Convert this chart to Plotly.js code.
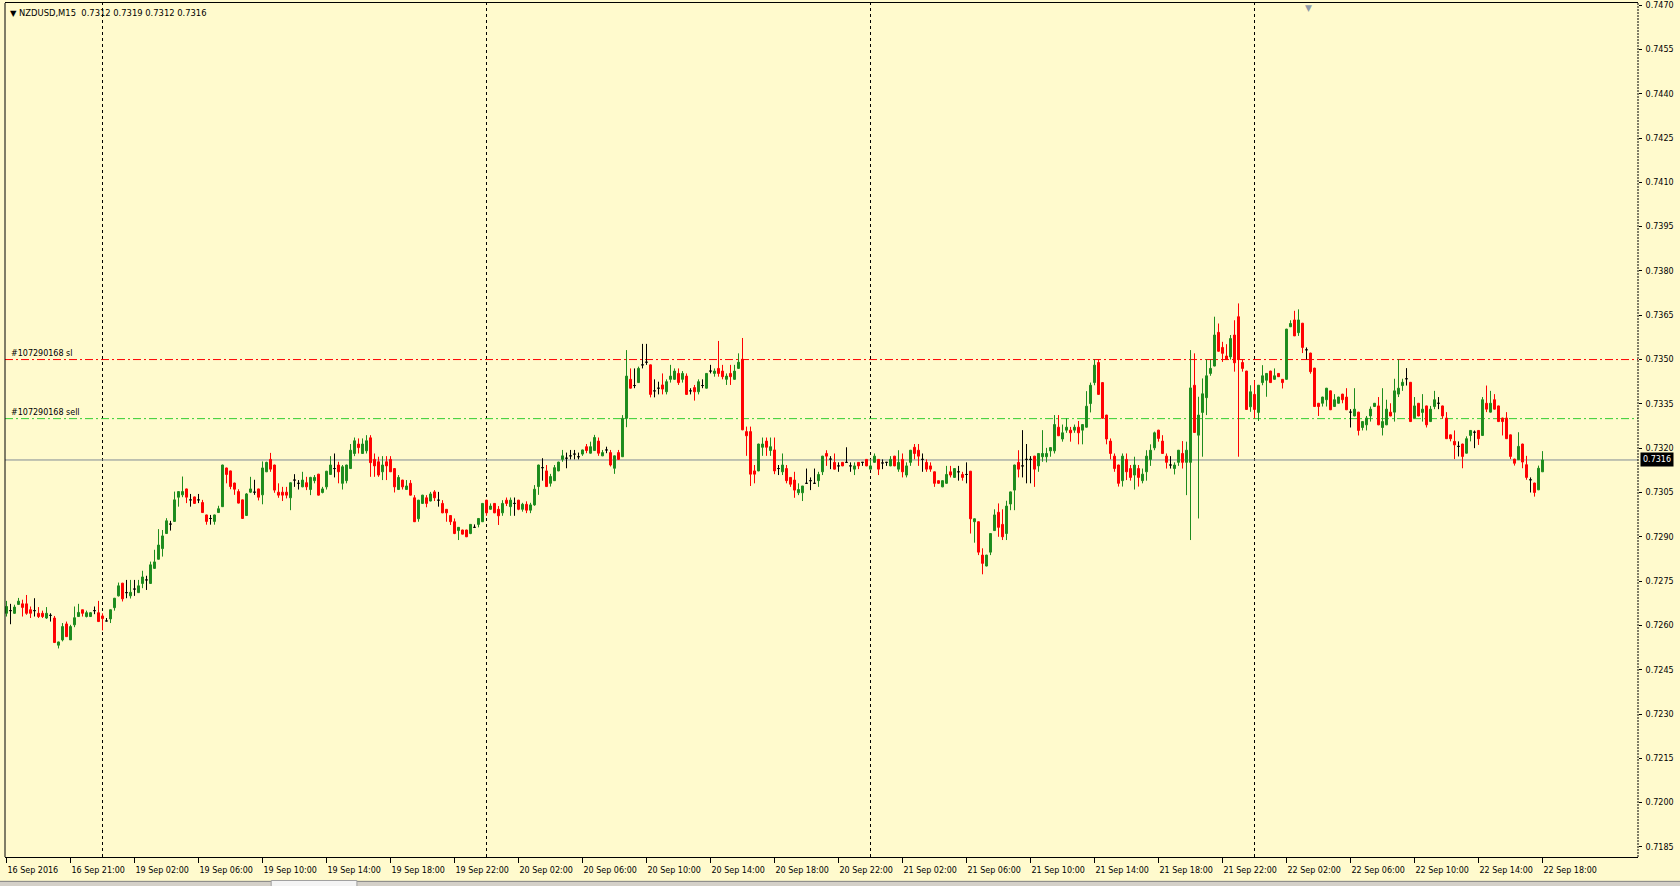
<!DOCTYPE html>
<html>
<head>
<meta charset="utf-8">
<script src="https://cdn.plot.ly/plotly-3.0.1.min.js"></script>
<style>
  html, body { margin: 0; padding: 0; background: #FFFACD; }
  #chart { width: 1680px; height: 886px; }
</style>
</head>
<body>
<div id="chart"></div>
<script>
// ---- Data: NZDUSD M15, one entry per bar (bar index 0 = 16 Sep 2016 17:00) ----
const symbolName = "NZDUSD,M15";
const open = [
0.72641,0.72650,0.72641,0.72671,0.72673,0.72673,0.72653,0.72650,0.72641,0.72641,
0.72625,0.72634,0.72625,0.72533,0.72551,0.72605,0.72551,0.72602,0.72630,0.72653,
0.72630,0.72630,0.72650,0.72643,0.72632,0.72615,0.72622,0.72660,0.72700,0.72743,
0.72711,0.72700,0.72723,0.72711,0.72742,0.72754,0.72742,0.72793,0.72824,0.72860,
0.72911,0.72943,0.72952,0.73034,0.73042,0.73062,0.73025,0.73035,0.73025,0.73016,
0.72974,0.72962,0.72952,0.72982,0.73002,0.73133,0.73123,0.73082,0.73053,0.73025,
0.72972,0.73051,0.73051,0.73062,0.73042,0.73120,0.73162,0.73143,0.73051,0.73051,
0.73051,0.73032,0.73092,0.73081,0.73069,0.73083,0.73060,0.73090,0.73112,0.73050,
0.73069,0.73111,0.73131,0.73143,0.73081,0.73090,0.73131,0.73182,0.73214,0.73182,
0.73191,0.73235,0.73162,0.73154,0.73120,0.73154,0.73162,0.73131,0.73060,0.73092,
0.73060,0.73081,0.73032,0.72961,0.73013,0.73032,0.73021,0.73052,0.73024,0.73013,
0.72993,0.72972,0.72951,0.72921,0.72923,0.72923,0.72911,0.72932,0.72942,0.72951,
0.73024,0.72993,0.73013,0.72993,0.72981,0.73024,0.73002,0.73013,0.73024,0.72993,
0.73010,0.72990,0.73008,0.73070,0.73134,0.73123,0.73081,0.73090,0.73123,0.73162,
0.73166,0.73174,0.73180,0.73171,0.73180,0.73205,0.73183,0.73192,0.73224,0.73174,
0.73194,0.73185,0.73132,0.73185,0.73171,0.73301,0.73433,0.73412,0.73422,0.73482,
0.73491,0.73482,0.73394,0.73403,0.73414,0.73391,0.73433,0.73433,0.73453,0.73433,
0.73444,0.73394,0.73405,0.73391,0.73412,0.73403,0.73461,0.73453,0.73470,0.73461,
0.73433,0.73453,0.73433,0.73470,0.73501,0.73256,0.73256,0.73123,0.73123,0.73203,
0.73224,0.73192,0.73194,0.73131,0.73120,0.73131,0.73101,0.73092,0.73049,0.73049,
0.73081,0.73090,0.73081,0.73090,0.73120,0.73182,0.73163,0.73152,0.73140,0.73152,
0.73152,0.73140,0.73129,0.73152,0.73152,0.73162,0.73129,0.73152,0.73162,0.73150,
0.73152,0.73140,0.73173,0.73129,0.73162,0.73109,0.73152,0.73203,0.73193,0.73162,
0.73152,0.73140,0.73120,0.73090,0.73069,0.73081,0.73120,0.73101,0.73120,0.73111,
0.73111,0.73122,0.72951,0.72951,0.72838,0.72801,0.72848,0.72921,0.72983,0.72942,
0.72911,0.73011,0.73058,0.73152,0.73140,0.73162,0.73162,0.73173,0.73140,0.73171,
0.73171,0.73191,0.73191,0.73271,0.73231,0.73261,0.73261,0.73261,0.73271,0.73261,
0.73271,0.73351,0.73422,0.73490,0.73422,0.73312,0.73224,0.73173,0.73143,0.73090,
0.73162,0.73131,0.73109,0.73131,0.73090,0.73120,0.73162,0.73201,0.73261,0.73224,
0.73173,0.73143,0.73131,0.73152,0.73182,0.73152,0.73152,0.73413,0.73244,0.73321,
0.73371,0.73453,0.73478,0.73592,0.73541,0.73512,0.73509,0.73583,0.73645,0.73490,
0.73461,0.73340,0.73382,0.73321,0.73422,0.73430,0.73461,0.73433,0.73453,0.73433,
0.73433,0.73611,0.73634,0.73591,0.73623,0.73533,0.73522,0.73471,0.73352,0.73352,
0.73364,0.73394,0.73341,0.73352,0.73383,0.73373,0.73322,0.73309,0.73322,0.73270,
0.73279,0.73309,0.73341,0.73343,0.73270,0.73279,0.73322,0.73322,0.73383,0.73412,
0.73435,0.73423,0.73302,0.73352,0.73321,0.73343,0.73290,0.73341,0.73352,0.73343,
0.73302,0.73245,0.73223,0.73206,0.73214,0.73183,0.73243,0.73254,0.73260,0.73243,
0.73352,0.73322,0.73364,0.73343,0.73302,0.73302,0.73245,0.73163,0.73161,0.73214,
0.73144,0.73093,0.73082,0.73059,0.73120
];
const high = [
0.72683,0.72673,0.72670,0.72693,0.72687,0.72703,0.72664,0.72692,0.72662,0.72650,
0.72662,0.72641,0.72632,0.72545,0.72608,0.72613,0.72602,0.72664,0.72673,0.72653,
0.72650,0.72645,0.72664,0.72683,0.72641,0.72625,0.72654,0.72693,0.72745,0.72744,
0.72754,0.72754,0.72754,0.72754,0.72785,0.72768,0.72816,0.72856,0.72926,0.72923,
0.72963,0.72954,0.73053,0.73054,0.73104,0.73063,0.73045,0.73036,0.73045,0.73025,
0.72975,0.72974,0.72975,0.73005,0.73144,0.73134,0.73124,0.73083,0.73061,0.73026,
0.73048,0.73103,0.73093,0.73063,0.73155,0.73154,0.73184,0.73144,0.73081,0.73069,
0.73069,0.73084,0.73112,0.73092,0.73120,0.73103,0.73103,0.73109,0.73113,0.73069,
0.73123,0.73173,0.73182,0.73154,0.73143,0.73144,0.73214,0.73236,0.73233,0.73233,
0.73244,0.73244,0.73182,0.73171,0.73173,0.73173,0.73173,0.73132,0.73109,0.73093,
0.73092,0.73092,0.73041,0.73025,0.73042,0.73041,0.73052,0.73058,0.73052,0.73024,
0.72994,0.72973,0.72962,0.72933,0.72924,0.72924,0.72943,0.72942,0.72963,0.73014,
0.73025,0.73013,0.73014,0.73004,0.73024,0.73033,0.73033,0.73033,0.73025,0.73015,
0.73020,0.73015,0.73075,0.73144,0.73166,0.73143,0.73113,0.73143,0.73154,0.73194,
0.73185,0.73194,0.73194,0.73185,0.73195,0.73214,0.73222,0.73245,0.73236,0.73194,
0.73205,0.73194,0.73175,0.73194,0.73312,0.73532,0.73470,0.73470,0.73476,0.73553,
0.73553,0.73483,0.73433,0.73425,0.73453,0.73433,0.73482,0.73470,0.73470,0.73461,
0.73453,0.73403,0.73414,0.73433,0.73433,0.73454,0.73482,0.73470,0.73563,0.73482,
0.73453,0.73482,0.73482,0.73521,0.73573,0.73273,0.73273,0.73143,0.73215,0.73236,
0.73236,0.73236,0.73236,0.73143,0.73182,0.73143,0.73101,0.73120,0.73081,0.73072,
0.73131,0.73101,0.73131,0.73120,0.73174,0.73193,0.73173,0.73182,0.73152,0.73153,
0.73203,0.73152,0.73152,0.73153,0.73153,0.73163,0.73162,0.73182,0.73163,0.73162,
0.73153,0.73173,0.73174,0.73193,0.73182,0.73152,0.73194,0.73214,0.73214,0.73182,
0.73162,0.73152,0.73121,0.73091,0.73091,0.73140,0.73140,0.73132,0.73140,0.73120,
0.73152,0.73123,0.72962,0.72952,0.72861,0.72839,0.72912,0.72993,0.73013,0.72993,
0.73022,0.73053,0.73144,0.73193,0.73261,0.73214,0.73173,0.73174,0.73182,0.73261,
0.73201,0.73203,0.73312,0.73312,0.73280,0.73301,0.73272,0.73280,0.73292,0.73281,
0.73393,0.73422,0.73501,0.73501,0.73423,0.73313,0.73233,0.73182,0.73144,0.73182,
0.73182,0.73143,0.73171,0.73143,0.73131,0.73193,0.73213,0.73256,0.73262,0.73244,
0.73182,0.73173,0.73152,0.73194,0.73224,0.73222,0.73532,0.73521,0.73374,0.73436,
0.73501,0.73501,0.73645,0.73622,0.73560,0.73552,0.73583,0.73633,0.73690,0.73500,
0.73462,0.73413,0.73430,0.73414,0.73481,0.73454,0.73462,0.73470,0.73454,0.73434,
0.73604,0.73633,0.73665,0.73670,0.73624,0.73541,0.73523,0.73472,0.73353,0.73374,
0.73404,0.73395,0.73383,0.73374,0.73384,0.73403,0.73332,0.73403,0.73323,0.73291,
0.73309,0.73341,0.73353,0.73373,0.73403,0.73364,0.73352,0.73435,0.73501,0.73435,
0.73471,0.73424,0.73373,0.73353,0.73383,0.73344,0.73343,0.73394,0.73373,0.73344,
0.73322,0.73246,0.73260,0.73223,0.73215,0.73240,0.73261,0.73260,0.73261,0.73373,
0.73412,0.73394,0.73383,0.73344,0.73303,0.73322,0.73246,0.73164,0.73254,0.73215,
0.73174,0.73101,0.73083,0.73141,0.73190
];
const low = [
0.72630,0.72604,0.72639,0.72669,0.72630,0.72636,0.72625,0.72630,0.72625,0.72625,
0.72622,0.72613,0.72542,0.72522,0.72546,0.72562,0.72551,0.72594,0.72630,0.72630,
0.72627,0.72629,0.72638,0.72613,0.72583,0.72615,0.72608,0.72650,0.72698,0.72681,
0.72692,0.72691,0.72700,0.72710,0.72726,0.72720,0.72741,0.72792,0.72823,0.72833,
0.72910,0.72921,0.72951,0.73002,0.73034,0.73014,0.73002,0.73012,0.73014,0.72981,
0.72941,0.72941,0.72941,0.72981,0.73001,0.73081,0.73061,0.73042,0.73013,0.72961,
0.72971,0.73048,0.73042,0.73023,0.73010,0.73119,0.73120,0.73049,0.73032,0.73021,
0.73030,0.72990,0.73069,0.73060,0.73068,0.73058,0.73041,0.73081,0.73040,0.73047,
0.73060,0.73110,0.73101,0.73081,0.73060,0.73081,0.73130,0.73173,0.73182,0.73181,
0.73182,0.73103,0.73103,0.73103,0.73092,0.73092,0.73120,0.73050,0.73060,0.73060,
0.73060,0.73040,0.72950,0.72951,0.73011,0.73000,0.73020,0.73021,0.73002,0.72980,
0.72951,0.72940,0.72909,0.72889,0.72908,0.72899,0.72909,0.72932,0.72932,0.72950,
0.72971,0.72992,0.72980,0.72940,0.72971,0.73004,0.72971,0.72971,0.72990,0.72985,
0.72980,0.72980,0.73005,0.73042,0.73090,0.73069,0.73070,0.73089,0.73122,0.73154,
0.73132,0.73162,0.73162,0.73162,0.73174,0.73183,0.73182,0.73191,0.73174,0.73173,
0.73183,0.73138,0.73113,0.73161,0.73170,0.73271,0.73402,0.73403,0.73421,0.73470,
0.73482,0.73372,0.73372,0.73382,0.73382,0.73382,0.73422,0.73431,0.73414,0.73422,
0.73381,0.73382,0.73361,0.73382,0.73403,0.73402,0.73453,0.73442,0.73442,0.73433,
0.73414,0.73414,0.73432,0.73469,0.73261,0.73174,0.73072,0.73081,0.73122,0.73174,
0.73174,0.73174,0.73112,0.73109,0.73109,0.73081,0.73069,0.73032,0.73041,0.73021,
0.73080,0.73058,0.73080,0.73069,0.73109,0.73140,0.73129,0.73128,0.73120,0.73139,
0.73151,0.73120,0.73109,0.73129,0.73140,0.73139,0.73128,0.73151,0.73109,0.73129,
0.73140,0.73139,0.73139,0.73120,0.73101,0.73101,0.73140,0.73162,0.73140,0.73120,
0.73120,0.73120,0.73069,0.73080,0.73068,0.73080,0.73101,0.73100,0.73090,0.73090,
0.73081,0.72911,0.72880,0.72838,0.72773,0.72800,0.72838,0.72920,0.72900,0.72889,
0.72889,0.72990,0.72990,0.73101,0.73101,0.73081,0.73081,0.73069,0.73120,0.73154,
0.73152,0.73171,0.73182,0.73241,0.73222,0.73252,0.73222,0.73252,0.73213,0.73213,
0.73270,0.73321,0.73413,0.73381,0.73300,0.73213,0.73162,0.73120,0.73070,0.73070,
0.73092,0.73090,0.73060,0.73070,0.73081,0.73090,0.73140,0.73193,0.73222,0.73181,
0.73131,0.73131,0.73111,0.73140,0.73131,0.73041,0.72889,0.73252,0.72962,0.73171,
0.73312,0.73445,0.73477,0.73527,0.73492,0.73499,0.73500,0.73459,0.73171,0.73459,
0.73330,0.73323,0.73301,0.73292,0.73413,0.73374,0.73421,0.73432,0.73441,0.73402,
0.73432,0.73610,0.73580,0.73580,0.73522,0.73501,0.73452,0.73340,0.73309,0.73341,
0.73341,0.73329,0.73340,0.73351,0.73352,0.73329,0.73270,0.73308,0.73243,0.73260,
0.73260,0.73290,0.73340,0.73278,0.73243,0.73278,0.73308,0.73290,0.73373,0.73394,
0.73412,0.73289,0.73301,0.73308,0.73290,0.73270,0.73289,0.73332,0.73332,0.73299,
0.73231,0.73223,0.73163,0.73172,0.73132,0.73182,0.73223,0.73200,0.73211,0.73242,
0.73322,0.73321,0.73331,0.73289,0.73243,0.73231,0.73163,0.73141,0.73160,0.73132,
0.73093,0.73050,0.73036,0.73058,0.73120
];
const close = [
0.72664,0.72650,0.72662,0.72682,0.72661,0.72641,0.72641,0.72650,0.72630,0.72630,
0.72641,0.72634,0.72542,0.72544,0.72596,0.72562,0.72596,0.72626,0.72644,0.72641,
0.72643,0.72643,0.72650,0.72613,0.72623,0.72615,0.72653,0.72692,0.72734,0.72690,
0.72711,0.72712,0.72723,0.72734,0.72764,0.72754,0.72805,0.72815,0.72872,0.72903,
0.72954,0.72943,0.73025,0.73053,0.73053,0.73034,0.73025,0.73013,0.73025,0.72982,
0.72952,0.72962,0.72974,0.72995,0.73143,0.73111,0.73070,0.73061,0.73014,0.72962,
0.73045,0.73062,0.73051,0.73034,0.73133,0.73152,0.73129,0.73058,0.73041,0.73041,
0.73041,0.73083,0.73092,0.73081,0.73092,0.73069,0.73101,0.73101,0.73041,0.73062,
0.73122,0.73143,0.73131,0.73120,0.73137,0.73143,0.73193,0.73225,0.73202,0.73214,
0.73225,0.73151,0.73140,0.73109,0.73143,0.73140,0.73120,0.73069,0.73101,0.73069,
0.73072,0.73041,0.72951,0.73024,0.73041,0.73013,0.73045,0.73032,0.73024,0.72981,
0.72981,0.72951,0.72911,0.72932,0.72909,0.72900,0.72942,0.72932,0.72962,0.73013,
0.72981,0.73004,0.72981,0.72971,0.73013,0.73013,0.73024,0.73013,0.72993,0.73010,
0.72990,0.73008,0.73061,0.73143,0.73134,0.73070,0.73104,0.73134,0.73153,0.73174,
0.73166,0.73174,0.73180,0.73171,0.73194,0.73192,0.73205,0.73236,0.73183,0.73185,
0.73194,0.73143,0.73174,0.73162,0.73301,0.73444,0.73403,0.73412,0.73470,0.73482,
0.73491,0.73382,0.73394,0.73403,0.73400,0.73425,0.73444,0.73461,0.73422,0.73453,
0.73382,0.73394,0.73391,0.73425,0.73412,0.73453,0.73461,0.73461,0.73453,0.73442,
0.73444,0.73442,0.73461,0.73491,0.73262,0.73242,0.73112,0.73112,0.73214,0.73214,
0.73203,0.73205,0.73123,0.73131,0.73143,0.73090,0.73078,0.73058,0.73060,0.73072,
0.73081,0.73090,0.73081,0.73111,0.73173,0.73173,0.73163,0.73129,0.73140,0.73140,
0.73152,0.73140,0.73140,0.73140,0.73152,0.73140,0.73140,0.73173,0.73129,0.73150,
0.73152,0.73162,0.73140,0.73152,0.73120,0.73140,0.73193,0.73182,0.73173,0.73162,
0.73129,0.73129,0.73081,0.73081,0.73090,0.73111,0.73109,0.73131,0.73120,0.73101,
0.73111,0.72961,0.72961,0.72848,0.72810,0.72838,0.72911,0.72974,0.72932,0.72900,
0.73004,0.73052,0.73143,0.73129,0.73140,0.73162,0.73162,0.73129,0.73182,0.73182,
0.73182,0.73202,0.73280,0.73242,0.73252,0.73271,0.73252,0.73271,0.73252,0.73280,
0.73342,0.73413,0.73481,0.73382,0.73301,0.73231,0.73182,0.73131,0.73081,0.73173,
0.73120,0.73101,0.73143,0.73101,0.73112,0.73173,0.73193,0.73252,0.73233,0.73182,
0.73152,0.73143,0.73143,0.73193,0.73152,0.73193,0.73404,0.73253,0.73312,0.73384,
0.73445,0.73470,0.73583,0.73528,0.73521,0.73500,0.73571,0.73489,0.73500,0.73470,
0.73331,0.73391,0.73331,0.73413,0.73445,0.73453,0.73422,0.73445,0.73442,0.73422,
0.73603,0.73622,0.73580,0.73634,0.73541,0.73533,0.73459,0.73341,0.73341,0.73373,
0.73403,0.73330,0.73364,0.73373,0.73364,0.73330,0.73322,0.73332,0.73260,0.73290,
0.73302,0.73332,0.73352,0.73279,0.73290,0.73332,0.73309,0.73394,0.73403,0.73423,
0.73435,0.73290,0.73343,0.73309,0.73332,0.73279,0.73332,0.73364,0.73352,0.73309,
0.73232,0.73232,0.73211,0.73206,0.73172,0.73232,0.73260,0.73254,0.73232,0.73364,
0.73332,0.73352,0.73332,0.73290,0.73290,0.73232,0.73172,0.73149,0.73206,0.73153,
0.73101,0.73093,0.73050,0.73132,0.73160
];
// time-axis labels, one every 16 bars (4 hours of M15 bars)
const tickLabels = [
"16 Sep 2016","16 Sep 21:00","19 Sep 02:00","19 Sep 06:00","19 Sep 10:00",
"19 Sep 14:00","19 Sep 18:00","19 Sep 22:00","20 Sep 02:00","20 Sep 06:00",
"20 Sep 10:00","20 Sep 14:00","20 Sep 18:00","20 Sep 22:00","21 Sep 02:00",
"21 Sep 06:00","21 Sep 10:00","21 Sep 14:00","21 Sep 18:00","21 Sep 22:00",
"22 Sep 02:00","22 Sep 06:00","22 Sep 10:00","22 Sep 14:00","22 Sep 18:00"
];
const barsPerLabel = 16;
// bar index at which each new trading day starts (period separators)
const dayStarts = [24, 120, 216, 312];
// order levels
const orderId = "#107290168";
const slLevel = 0.7350;
const sellLevel = 0.7330;

// ---- Build traces ----
const n = close.length;
const idx = Array.from({length: n}, (_, i) => i);
const body = idx.filter(i => open[i] !== close[i]);
const doji = idx.filter(i => open[i] === close[i]);
const pick = (arr, ids) => ids.map(i => arr[i]);

const GREEN = '#1e8c1e';
const RED = '#ff0000';

const traces = [
  {
    type: 'candlestick',
    x: body, open: pick(open, body), high: pick(high, body), low: pick(low, body), close: pick(close, body),
    increasing: {line: {color: GREEN, width: 1}, fillcolor: GREEN},
    decreasing: {line: {color: RED, width: 1}, fillcolor: RED},
    whiskerwidth: 0, hoverinfo: 'skip', showlegend: false
  },
  {
    type: 'candlestick',
    x: doji, open: pick(open, doji), high: pick(high, doji), low: pick(low, doji), close: pick(close, doji),
    increasing: {line: {color: '#000000', width: 1}, fillcolor: '#000000'},
    decreasing: {line: {color: '#000000', width: 1}, fillcolor: '#000000'},
    whiskerwidth: 0, hoverinfo: 'skip', showlegend: false
  }
];

const lastClose = close[n - 1];
const fontFam = 'DejaVu Sans, Verdana, sans-serif';

const shapes = [];
dayStarts.forEach(b => shapes.push({
  type: 'line', xref: 'x', yref: 'paper', x0: b, x1: b, y0: 0, y1: 1,
  line: {color: '#000000', width: 1, dash: '3px,3px'}, layer: 'below'
}));
shapes.push({type: 'line', xref: 'paper', yref: 'y', x0: 0, x1: 1, y0: slLevel, y1: slLevel,
  line: {color: RED, width: 1, dash: '8px,3px,2px,3px'}, layer: 'below'});
shapes.push({type: 'line', xref: 'paper', yref: 'y', x0: 0, x1: 1, y0: sellLevel, y1: sellLevel,
  line: {color: '#32cd32', width: 1, dash: '8px,3px,2px,3px'}, layer: 'below'});
shapes.push({type: 'line', xref: 'paper', yref: 'y', x0: 0, x1: 1, y0: lastClose, y1: lastClose,
  line: {color: '#808a96', width: 1}, layer: 'below'});
// frame: left solid, right dashed
shapes.push({type: 'line', xref: 'paper', yref: 'paper', x0: 0, x1: 0, y0: 0, y1: 1,
  line: {color: '#000000', width: 1}});
shapes.push({type: 'line', xref: 'paper', yref: 'paper', x0: 1, x1: 1, y0: 0, y1: 1,
  line: {color: '#000000', width: 1, dash: '2px,1px'}});
// window chrome: tab strip at the very bottom
shapes.push({type: 'rect', xref: 'paper', yref: 'paper', x0: -0.01, x1: 1.03, y0: -0.0285, y1: -0.04,
  fillcolor: '#d4d0c8', line: {width: 0}});
shapes.push({type: 'line', xref: 'paper', yref: 'paper', x0: -0.01, x1: 1.03, y0: -0.0285, y1: -0.0285,
  line: {color: '#808080', width: 1}});
shapes.push({type: 'rect', xref: 'paper', yref: 'paper', x0: 0.163, x1: 0.2155, y0: -0.0275, y1: -0.04,
  fillcolor: '#f4f4f4', line: {color: '#a0a0a0', width: 1}});

const fmt = v => v.toFixed(4);
const annotations = [
  {xref: 'paper', yref: 'paper', x: 0, y: 1, xanchor: 'left', yanchor: 'top', xshift: 3, yshift: -3,
   text: '\u25BC\u00A0' + symbolName + '\u00A0\u00A0' + [open[n-1], high[n-1], low[n-1], close[n-1]].map(fmt).join('\u00A0'),
   showarrow: false, font: {family: fontFam, size: 8.4, color: '#000000'}},
  {xref: 'paper', yref: 'y', x: 0, y: slLevel, xanchor: 'left', yanchor: 'bottom', xshift: 4, yshift: 0,
   text: orderId + ' sl', showarrow: false, font: {family: fontFam, size: 8, color: '#000000'}},
  {xref: 'paper', yref: 'y', x: 0, y: sellLevel, xanchor: 'left', yanchor: 'bottom', xshift: 4, yshift: 0,
   text: orderId + ' sell', showarrow: false, font: {family: fontFam, size: 8, color: '#000000'}},
  {xref: 'paper', yref: 'y', x: 1, y: lastClose, xanchor: 'left', yanchor: 'middle', xshift: 2,
   text: fmt(lastClose), showarrow: false, bgcolor: '#000000', borderpad: 2,
   font: {family: fontFam, size: 8, color: '#ffffff'}},
  {xref: 'paper', yref: 'paper', x: 0.7985, y: 1, xanchor: 'center', yanchor: 'top', yshift: 2,
   text: '\u25BC', showarrow: false, font: {family: fontFam, size: 9, color: '#8f9aa8'}}
];

const layout = {
  width: 1680, height: 886,
  margin: {l: 5, r: 42, t: 3, b: 29, pad: 0},
  paper_bgcolor: '#FFFACD', plot_bgcolor: '#FFFACD',
  showlegend: false,
  boxgap: 0.3, boxgroupgap: 0.3,
  hovermode: false,
  xaxis: {
    type: 'linear', range: [-0.375, 407.875],
    tickmode: 'array',
    tickvals: tickLabels.map((_, k) => k * barsPerLabel),
    ticktext: tickLabels,
    ticks: 'outside', ticklen: 5, tickcolor: '#000000', tickwidth: 1,
    ticklabelposition: 'outside right',
    ticklabelstandoff: 5,
    showgrid: false, zeroline: false,
    showline: true, linecolor: '#000000', linewidth: 1, mirror: true,
    rangeslider: {visible: false},
    tickfont: {family: fontFam, size: 8, color: '#000000'},
    fixedrange: true
  },
  yaxis: {
    side: 'right', range: [0.71816, 0.74707],
    tickmode: 'linear', tick0: 0.7185, dtick: 0.0015, tickformat: '.4f',
    ticks: 'outside', ticklen: 3, tickcolor: '#000000',
    ticklabelstandoff: 2,
    showgrid: false, zeroline: false, showline: false,
    tickfont: {family: fontFam, size: 8, color: '#000000'},
    fixedrange: true
  },
  shapes: shapes,
  annotations: annotations
};

Plotly.newPlot('chart', traces, layout, {displayModeBar: false, staticPlot: true});
</script>
</body>
</html>
